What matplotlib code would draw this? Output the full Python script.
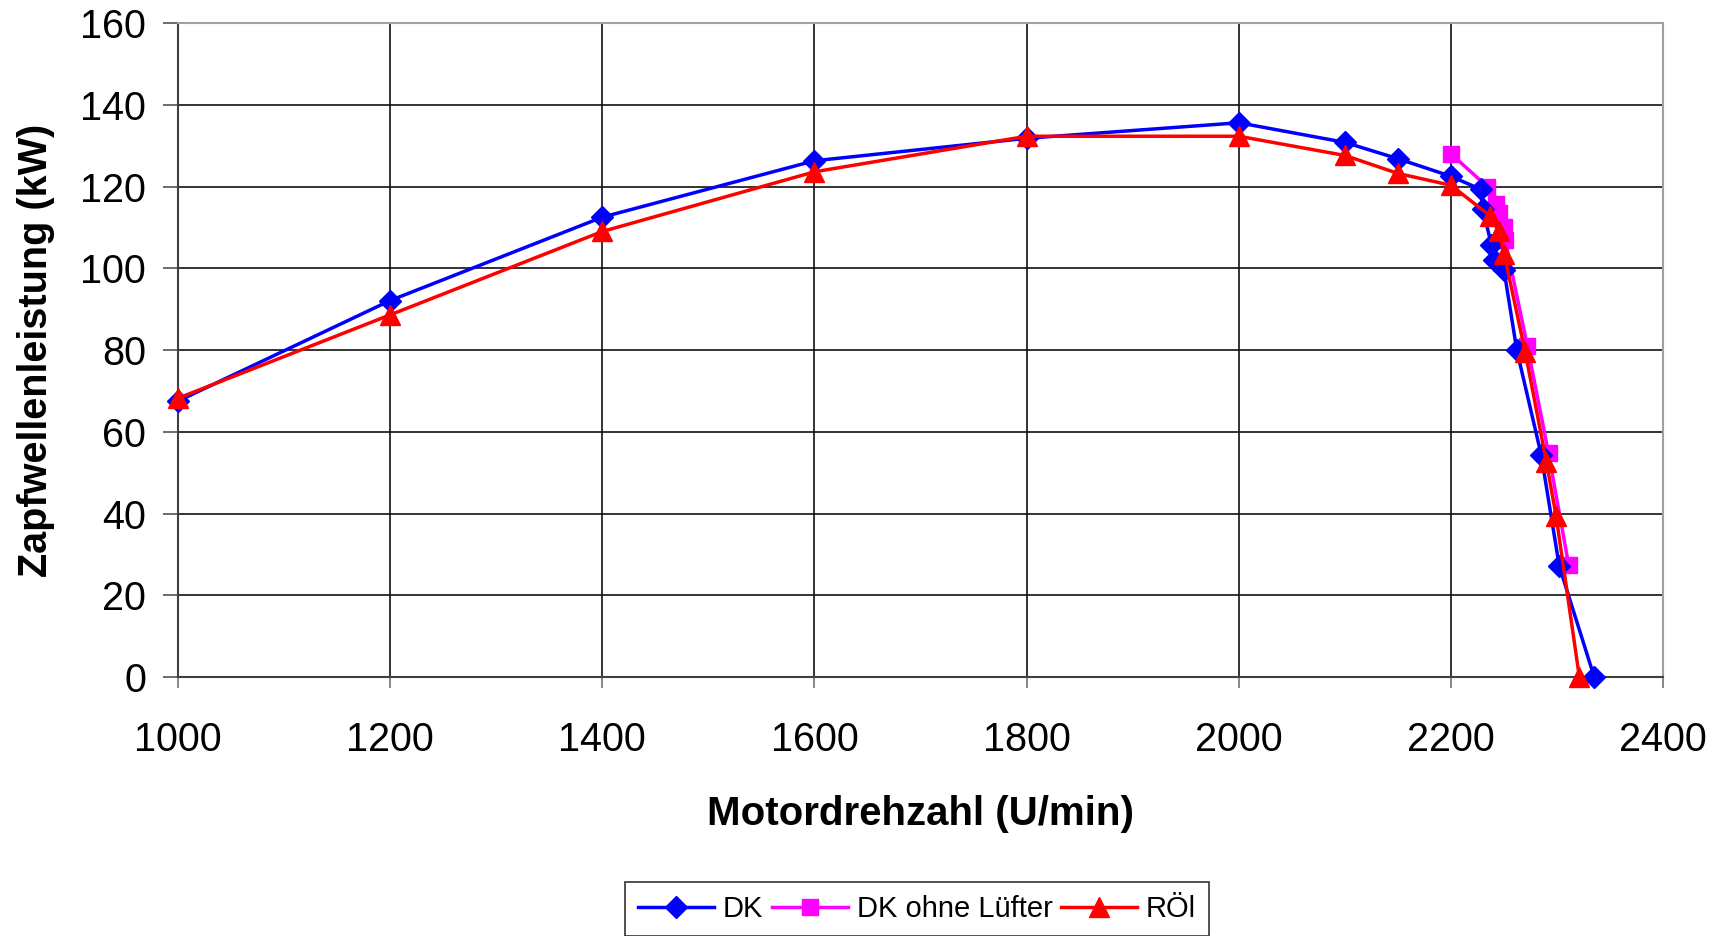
import matplotlib.pyplot as plt

plt.rcParams['font.family'] = ['Liberation Sans', 'DejaVu Sans']

# DK
dk_x = [1000, 1200, 1400, 1600, 1800, 2000, 2100, 2150, 2200, 2228, 2230,
        2238, 2241, 2250, 2262, 2285, 2302, 2335]
dk_y = [67.5, 92.1, 112.5, 126.3, 131.8, 135.6, 130.8, 126.8, 122.5, 119.3,
        114.6, 105.8, 102.0, 99.5, 80.0, 54.4, 27.2, 0.0]

# DK ohne Lüfter
ol_x = [2200, 2234, 2242, 2245, 2250, 2251, 2272, 2292, 2311]
ol_y = [128.0, 120.0, 115.8, 113.5, 110.0, 107.0, 81.0, 54.7, 27.3]

# RÖl
rl_x = [1000, 1200, 1400, 1600, 1800, 2000, 2100, 2150, 2200, 2237, 2245,
        2250, 2270, 2290, 2299, 2321]
rl_y = [68.2, 88.6, 109.0, 123.6, 132.3, 132.3, 127.6, 123.2, 120.3, 112.8,
        109.0, 103.6, 79.5, 52.5, 39.5, 0.0]

fig = plt.figure(figsize=(17.21, 9.36), dpi=100)
ax = fig.add_axes([0.1034, 0.2767, 0.863, 0.6987])

ax.plot(dk_x, dk_y, color="#0000ff", linewidth=2.5, marker="D", markersize=11.5,
        label="DK", clip_on=False, zorder=3)
ax.plot(ol_x, ol_y, color="#ff00ff", linewidth=2.5, marker="s", markersize=12,
        label="DK ohne Lüfter", clip_on=False, zorder=2)
ax.plot(rl_x, rl_y, color="#ff0000", linewidth=2.5, marker="^", markersize=15,
        label="RÖl", clip_on=False, zorder=4)

ax.set_xlim(1000, 2400)
ax.set_ylim(0, 160)
ax.set_xticks(range(1000, 2401, 200))
ax.set_yticks(range(0, 161, 20))
ax.grid(True, color="#111111", linewidth=1.2)
ax.set_axisbelow(True)

for s in ["left", "bottom"]:
    ax.spines[s].set_color("#404040")
    ax.spines[s].set_linewidth(1.5)
for s in ["top", "right"]:
    ax.spines[s].set_color("#a0a0a0")
    ax.spines[s].set_linewidth(1.5)

ax.tick_params(axis="y", labelsize=28.5, length=11, width=1.3, color="#606060", pad=12)
ax.tick_params(axis="x", labelsize=28.5, length=8, width=1.3, color="#808080", pad=24)

fig.text(0.535, 0.130, "Motordrehzahl (U/min)", ha="center", va="center",
         fontsize=29, fontweight="bold")
fig.text(0.021, 0.626, "Zapfwellenleistung (kW)", ha="center", va="center",
         rotation=90, fontsize=28.5, fontweight="bold")

leg = fig.legend(loc="upper center", bbox_to_anchor=(0.533, 0.058), ncol=3,
                 fontsize=21, frameon=True, fancybox=False, edgecolor="black",
                 handlelength=2.6, handletextpad=0.3, columnspacing=0.3,
                 borderpad=0.45, borderaxespad=0)
leg.get_frame().set_linewidth(1.2)

fig.savefig("out.png", dpi=100)
